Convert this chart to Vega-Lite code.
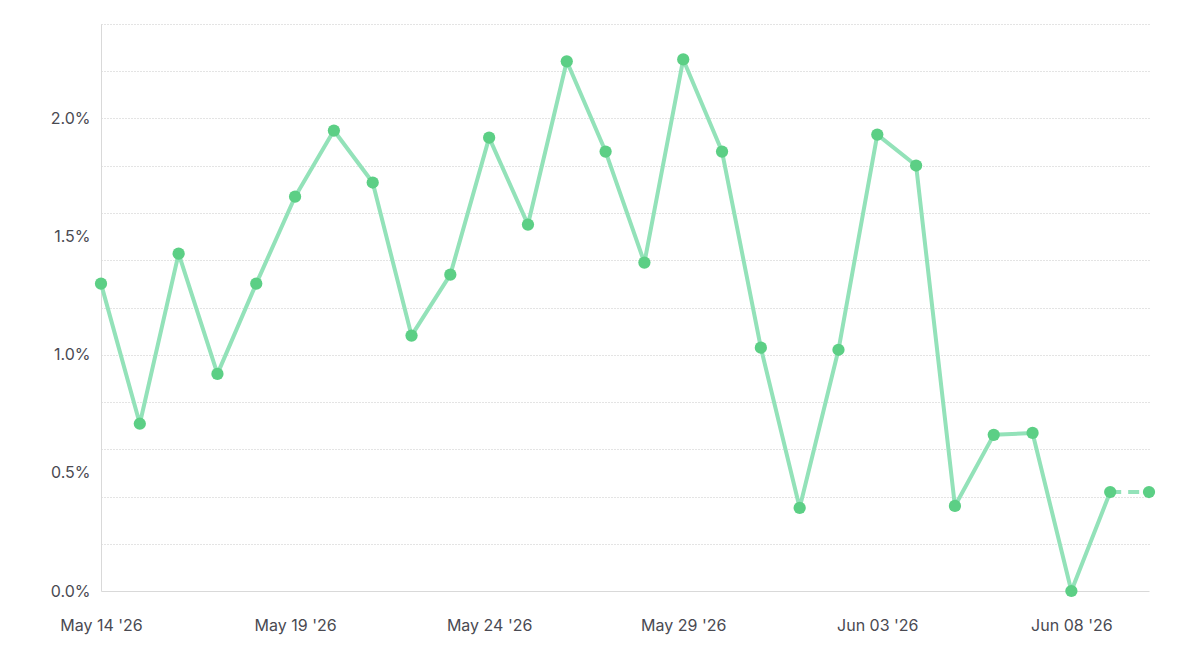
{
  "$schema": "https://vega.github.io/schema/vega-lite/v6.json",
  "width": 1048,
  "height": 567,
  "autosize": {"type": "none"},
  "padding": {"left": 101, "top": 24, "right": 51, "bottom": 81},
  "background": "white",
  "config": {
    "view": {"stroke": null},
    "font": "Inter",
    "axis": {"labelFont": "Inter", "labelFontSize": 16, "labelColor": "#4a4a52", "titleFont": "Inter"}
  },
  "data": {
    "values": [
      {"date": "2026-05-14", "rate": 0.01301},
      {"date": "2026-05-15", "rate": 0.00708},
      {"date": "2026-05-16", "rate": 0.01428},
      {"date": "2026-05-17", "rate": 0.00919},
      {"date": "2026-05-18", "rate": 0.01301},
      {"date": "2026-05-19", "rate": 0.01669},
      {"date": "2026-05-20", "rate": 0.01949},
      {"date": "2026-05-21", "rate": 0.01729},
      {"date": "2026-05-22", "rate": 0.01081},
      {"date": "2026-05-23", "rate": 0.01339},
      {"date": "2026-05-24", "rate": 0.01919},
      {"date": "2026-05-25", "rate": 0.01551},
      {"date": "2026-05-26", "rate": 0.02242},
      {"date": "2026-05-27", "rate": 0.0186},
      {"date": "2026-05-28", "rate": 0.0139},
      {"date": "2026-05-29", "rate": 0.0225},
      {"date": "2026-05-30", "rate": 0.0186},
      {"date": "2026-05-31", "rate": 0.0103},
      {"date": "2026-06-01", "rate": 0.00352},
      {"date": "2026-06-02", "rate": 0.01021},
      {"date": "2026-06-03", "rate": 0.01932},
      {"date": "2026-06-04", "rate": 0.01801},
      {"date": "2026-06-05", "rate": 0.0036},
      {"date": "2026-06-06", "rate": 0.00661},
      {"date": "2026-06-07", "rate": 0.00669},
      {"date": "2026-06-08", "rate": 0.0},
      {"date": "2026-06-09", "rate": 0.00419},
      {"date": "2026-06-10", "rate": 0.00419}
    ]
  },
  "encoding": {
    "x": {
      "field": "date",
      "type": "temporal",
      "scale": {"type": "utc", "domain": [{"year": 2026, "month": 5, "date": 14, "utc": true}, {"year": 2026, "month": 6, "date": 10, "utc": true}], "nice": false},
      "axis": {
        "title": null,
        "grid": false,
        "ticks": false,
        "domainColor": "#d9d9d9",
        "domainWidth": 1,
        "labelPadding": 26,
        "labelOverlap": false,
        "labelFlush": false,
        "values": [
          {"year": 2026, "month": 5, "date": 14, "utc": true},
          {"year": 2026, "month": 5, "date": 19, "utc": true},
          {"year": 2026, "month": 5, "date": 24, "utc": true},
          {"year": 2026, "month": 5, "date": 29, "utc": true},
          {"year": 2026, "month": 6, "date": 3, "utc": true},
          {"year": 2026, "month": 6, "date": 8, "utc": true}
        ],
        "labelExpr": "utcFormat(datum.value, '%b %d \\'%y')"
      }
    },
    "y": {
      "field": "rate",
      "type": "quantitative",
      "scale": {"domain": [0, 0.024], "nice": false, "zero": true},
      "axis": {
        "title": null,
        "ticks": false,
        "domainColor": "#d9d9d9",
        "domainWidth": 1,
        "labelPadding": 11,
        "labelOverlap": false,
        "labelFlush": false,
        "values": [0, 0.002, 0.004, 0.005, 0.006, 0.008, 0.01, 0.012, 0.014, 0.015, 0.016, 0.018, 0.02, 0.022, 0.024],
        "labelExpr": "round(datum.value * 1000) % 5 == 0 ? format(datum.value, '.1%') : ''",
        "grid": true,
        "gridColor": "#c8c8c8",
        "gridDash": [1, 2],
        "gridWidth": 1,
        "gridOpacity": {"condition": {"test": "round(datum.value * 1000) % 2 != 0 || datum.value == 0", "value": 0}, "value": 1}
      }
    }
  },
  "layer": [
    {
      "transform": [{"filter": "time(datum.date) <= utc(2026, 5, 9)"}],
      "mark": {"type": "line", "color": "#93e2b9", "strokeWidth": 4, "strokeJoin": "round", "strokeCap": "round"}
    },
    {
      "transform": [{"filter": "time(datum.date) >= utc(2026, 5, 9)"}],
      "mark": {"type": "line", "color": "#93e2b9", "strokeWidth": 4, "strokeDash": [11, 7]}
    },
    {
      "mark": {"type": "point", "filled": true, "color": "#5ccf85", "size": 150, "opacity": 1}
    }
  ]
}
